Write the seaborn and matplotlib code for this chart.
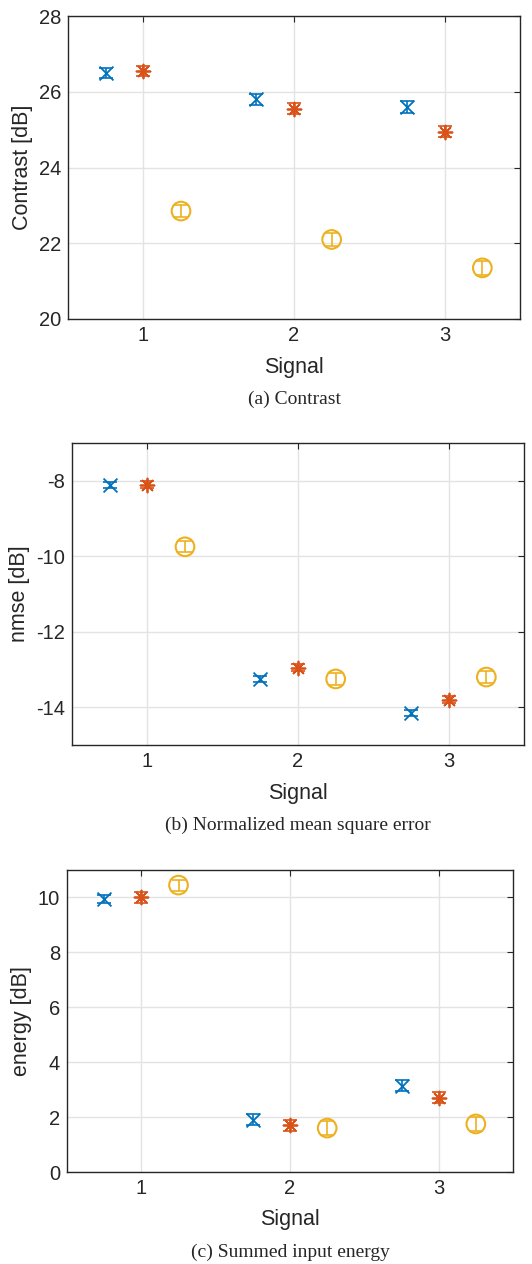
import numpy as np
import pandas as pd
import seaborn as sns
import matplotlib.pyplot as plt

# signals on the x axis, three methods each
signals = [1, 2, 3]
offsets = [-0.25, 0.0, 0.25]
colors = ['#0072BD', '#D95319', '#EDB120']
markers = ['x', (8, 2, 0), 'o']

# (a) contrast
contrast_mean = [[26.5, 25.8, 25.6], [26.55, 25.55, 24.95], [22.85, 22.1, 21.35]]
contrast_err = [[0.13, 0.15, 0.15], [0.13, 0.15, 0.15], [0.17, 0.18, 0.18]]
# (b) nmse
nmse_mean = [[-8.1, -13.25, -14.15], [-8.1, -12.95, -13.8], [-9.75, -13.25, -13.2]]
nmse_err = [[0.08, 0.08, 0.08], [0.1, 0.1, 0.1], [0.15, 0.15, 0.15]]
# (c) energy
energy_mean = [[9.95, 1.9, 3.15], [10.0, 1.7, 2.7], [10.45, 1.6, 1.75]]
energy_err = [[0.15, 0.2, 0.2], [0.2, 0.2, 0.2], [0.2, 0.25, 0.25]]

sns.set_style('white')
plt.rcParams['font.family'] = ['Liberation Sans', 'DejaVu Sans']
plt.rcParams['axes.unicode_minus'] = False

fig = plt.figure(figsize=(5.32, 12.64), dpi=100)
H = 1264.0
W = 532.0

panels = [
    # left, right, top, bottom (px), data, ylabel, ylim, yticks, caption
    (68, 520, 16, 319, contrast_mean, contrast_err, 'Contrast [dB]', (20, 28), [20, 22, 24, 26, 28], '(a) Contrast'),
    (72, 524, 443, 745, nmse_mean, nmse_err, 'nmse [dB]', (-15, -7), [-14, -12, -10, -8], '(b) Normalized mean square error'),
    (67, 513, 870, 1172, energy_mean, energy_err, 'energy [dB]', (0, 11), [0, 2, 4, 6, 8, 10], '(c) Summed input energy'),
]

for left, right, top, bottom, means, errs, ylab, ylim, yticks, caption in panels:
    ax = fig.add_axes([left / W, 1 - bottom / H, (right - left) / W, (bottom - top) / H])
    for k in range(3):
        df = pd.DataFrame({'x': np.array(signals) + offsets[k], 'y': means[k], 'e': errs[k]})
        ax.errorbar(df['x'], df['y'], yerr=df['e'], fmt='none', ecolor=colors[k],
                    elinewidth=1.2, capsize=5, capthick=1.2, zorder=3)
        if markers[k] == 'o':
            sns.scatterplot(data=df, x='x', y='y', ax=ax, marker='o', s=180,
                            facecolors='none', edgecolor=colors[k], linewidth=1.5, zorder=4)
        else:
            sns.scatterplot(data=df, x='x', y='y', ax=ax, marker=markers[k], s=100,
                            color=colors[k], linewidth=1.3, zorder=4)
    ax.set_xlim(0.5, 3.5)
    ax.set_ylim(*ylim)
    ax.set_xticks(signals)
    ax.set_yticks(yticks)
    ax.grid(True, color='#e3e3e3', linewidth=1.0)
    ax.set_axisbelow(True)
    for s in ax.spines.values():
        s.set_color('#262626')
        s.set_linewidth(1.0)
    ax.tick_params(direction='in', length=4, width=0.8, colors='#262626',
                   labelsize=14.5, top=True, right=True, pad=5)
    ax.set_xlabel('')
    ax.set_ylabel(ylab, fontsize=15.5, color='#262626', labelpad=4)
    cx = (left + right) / 2 / W
    fig.text(cx, 1 - (bottom + 48) / H, 'Signal', ha='center', va='center',
             fontsize=15.5, color='#262626')
    fig.text(cx, 1 - (bottom + 80) / H, caption, ha='center', va='center',
             fontsize=14, family=['Liberation Serif', 'DejaVu Serif'])

fig.savefig('out.png', dpi=100)
